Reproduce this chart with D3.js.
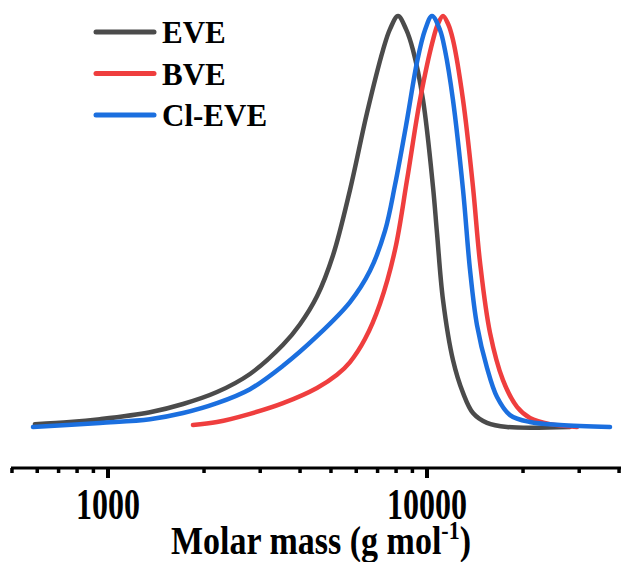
<!DOCTYPE html>
<html>
<head>
<meta charset="utf-8">
<script src="https://cdn.jsdelivr.net/npm/d3@7"></script>
<style>
  body { margin: 0; background: #fff; }
  svg { display: block; }
</style>
</head>
<body>
<div id="chart"></div>
<script>
var width = 621, height = 562;

// molar mass (g/mol) and normalised signal
var eveMass = [590, 760, 944, 1354, 1719, 2196, 2787, 3537, 3999, 4520, 5075, 5737, 6484, 7279, 7656, 8112, 8595, 9040, 9716, 10443, 10748, 11225, 12061, 12970, 13937, 15422, 17818, 28070];
var eveSignal = [0.007, 0.012, 0.019, 0.036, 0.056, 0.085, 0.129, 0.200, 0.250, 0.318, 0.418, 0.577, 0.764, 0.917, 0.968, 1.0, 0.968, 0.917, 0.796, 0.584, 0.472, 0.309, 0.163, 0.083, 0.034, 0.010, 0, 0];

var bveMass = [1847, 2196, 2787, 3537, 4520, 5222, 5737, 6391, 7123, 7939, 8657, 9508, 10443, 10826, 11225, 11638, 12061, 12970, 13937, 14661, 15760, 17305, 19149, 21028, 24298, 29526];
var bveSignal = [0.005, 0.012, 0.032, 0.058, 0.095, 0.127, 0.158, 0.214, 0.300, 0.431, 0.601, 0.796, 0.942, 0.981, 1.0, 0.981, 0.942, 0.796, 0.584, 0.401, 0.229, 0.114, 0.049, 0.022, 0.007, 0];

var cleveMass = [582, 944, 1354, 1719, 2196, 2787, 3537, 4520, 5737, 6626, 7384, 7939, 8657, 9305, 9857, 10367, 10984, 11387, 12061, 12970, 13643, 14345, 15422, 16577, 18206, 21028, 26115, 37474];
var cleveSignal = [0, 0.010, 0.019, 0.034, 0.058, 0.092, 0.149, 0.221, 0.304, 0.380, 0.477, 0.589, 0.747, 0.888, 0.966, 1.0, 0.966, 0.917, 0.796, 0.577, 0.382, 0.248, 0.144, 0.073, 0.029, 0.012, 0.005, 0];

var seriesNames = ["EVE", "BVE", "Cl-EVE"];
var seriesColors = ["#4b4b4b", "#ef3e3e", "#1b6fdf"];
var majorTicks = [1000, 10000];
var minorTicks = [500, 600, 700, 800, 900, 2000, 3000, 4000, 5000, 6000, 7000, 8000, 9000, 20000, 30000, 40000];

var series = [
  { name: seriesNames[0], color: seriesColors[0], mass: eveMass, signal: eveSignal },
  { name: seriesNames[1], color: seriesColors[1], mass: bveMass, signal: bveSignal },
  { name: seriesNames[2], color: seriesColors[2], mass: cleveMass, signal: cleveSignal }
];

var svg = d3.select("#chart")
  .append("svg")
  .attr("width", width)
  .attr("height", height);

var x0 = d3.scaleLog().domain([1000, 10000]).range([108, 427]);
var x = x0.copy().domain([x0.invert(11), x0.invert(622)]).range([11, 622]);
var y = d3.scaleLinear().domain([0, 1]).range([427, 16]);

var axisY = 468;

// axis line
svg.append("line")
  .attr("x1", 11).attr("x2", 622)
  .attr("y1", axisY).attr("y2", axisY)
  .attr("stroke", "#000")
  .attr("stroke-width", 3);

svg.selectAll(".minor")
  .data(minorTicks.filter(function(d){ return x(d) < 620; }))
  .enter().append("line")
  .attr("class", "minor")
  .attr("x1", function(d){ return x(d); })
  .attr("x2", function(d){ return x(d); })
  .attr("y1", axisY).attr("y2", axisY + 5)
  .attr("stroke", "#000")
  .attr("stroke-width", 3.5);

svg.selectAll(".major")
  .data(majorTicks)
  .enter().append("line")
  .attr("class", "major")
  .attr("x1", function(d){ return x(d); })
  .attr("x2", function(d){ return x(d); })
  .attr("y1", axisY).attr("y2", axisY + 10)
  .attr("stroke", "#000")
  .attr("stroke-width", 4);

svg.selectAll(".tlabel")
  .data(majorTicks)
  .enter().append("text")
  .attr("class", "tlabel")
  .attr("transform", function(d){ return "translate(" + x(d) + ",519) scale(1,1.38)"; })
  .attr("text-anchor", "middle")
  .attr("font-family", "'Liberation Serif', 'Times New Roman', serif")
  .attr("font-weight", "bold")
  .attr("font-size", 32)
  .text(function(d){ return d; });

var title = svg.append("text")
  .attr("transform", "translate(321,554) scale(1,1.18)")
  .attr("text-anchor", "middle")
  .attr("font-family", "'Liberation Serif', 'Times New Roman', serif")
  .attr("font-weight", "bold")
  .attr("font-size", 34);
title.append("tspan").text("Molar mass (g mol");
title.append("tspan").attr("font-size", 22).attr("dy", -13).text("-1");
title.append("tspan").attr("dy", 13).text(")");

var line = d3.line()
  .x(function(d){ return x(d[0]); })
  .y(function(d){ return y(d[1]); })
  .curve(d3.curveCatmullRom.alpha(0.5));

svg.selectAll(".curve")
  .data(series)
  .enter().append("path")
  .attr("class", "curve")
  .attr("d", function(s){ return line(d3.zip(s.mass, s.signal)); })
  .attr("fill", "none")
  .attr("stroke", function(s){ return s.color; })
  .attr("stroke-width", 4.5)
  .attr("stroke-linejoin", "round")
  .attr("stroke-linecap", "round");

var legend = svg.selectAll(".legend")
  .data(series)
  .enter().append("g")
  .attr("class", "legend")
  .attr("transform", function(d, i){ return "translate(0," + (i * 41.5) + ")"; });

legend.append("line")
  .attr("x1", 96).attr("x2", 154)
  .attr("y1", 32).attr("y2", 32)
  .attr("stroke", function(d){ return d.color; })
  .attr("stroke-width", 5)
  .attr("stroke-linecap", "round");

legend.append("text")
  .attr("x", 162).attr("y", 43)
  .attr("font-family", "'Liberation Serif', 'Times New Roman', serif")
  .attr("font-weight", "bold")
  .attr("font-size", 31)
  .text(function(d){ return d.name; });
</script>
</body>
</html>
